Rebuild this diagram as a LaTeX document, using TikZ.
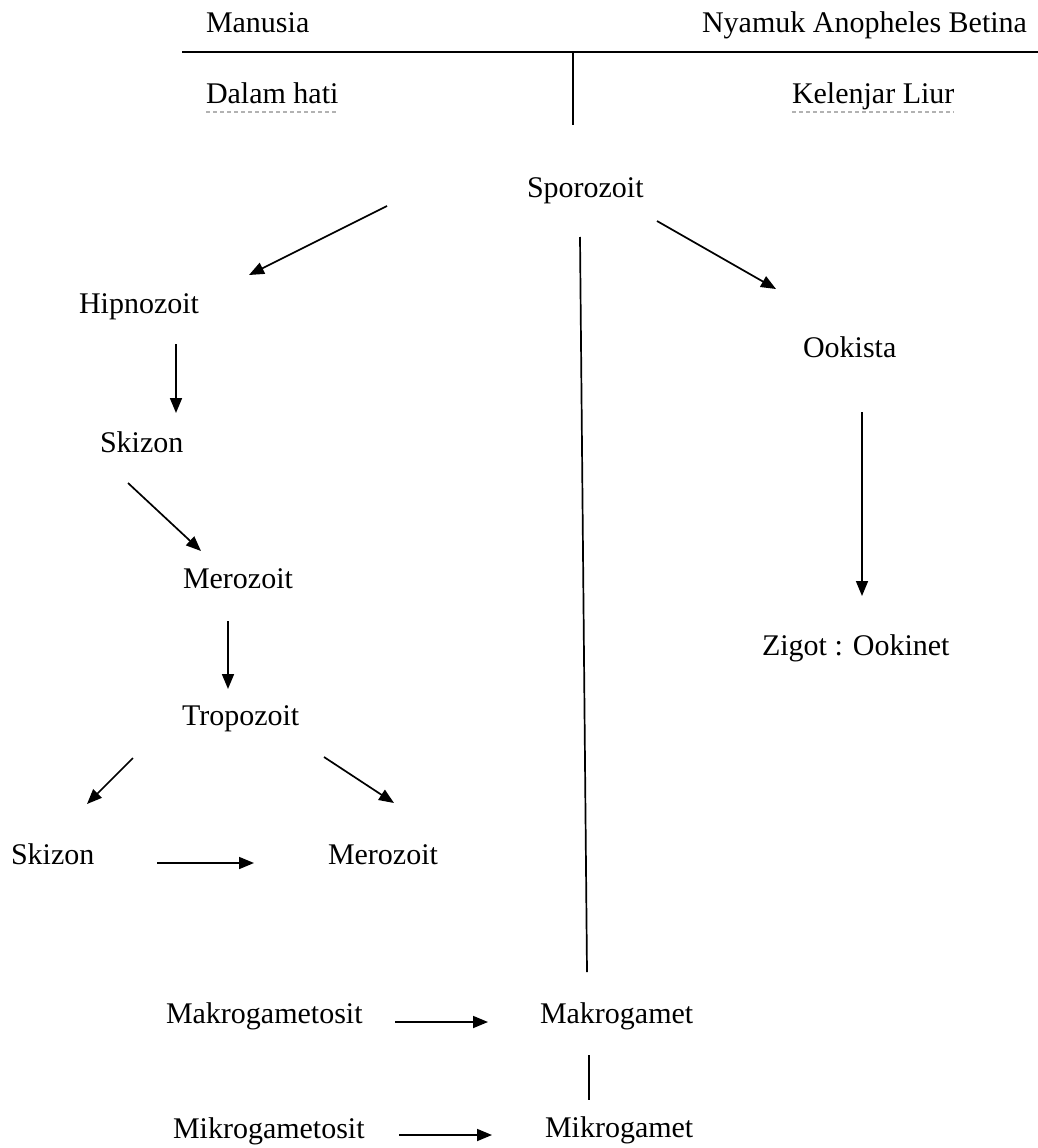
\documentclass[tikz,border=0pt]{standalone}
\usepackage{fontspec}
\setmainfont{Liberation Serif}
\usetikzlibrary{arrows.meta}
\tikzset{
  lbl/.style={anchor=base west, inner sep=0pt, outer sep=0pt, font=\fontsize{30}{36}\selectfont},
  lblr/.style={lbl, anchor=base east},
  arr/.style={line width=1.7pt, -{Triangle[length=15pt,width=12pt]}},
  rule/.style={line width=1.7pt},
  spell/.style={gray!60, line width=1.2pt, dash pattern=on 4pt off 3pt}
}
\begin{document}
\begin{tikzpicture}[x=1pt,y=-1pt]
\useasboundingbox (0,0) rectangle (1038,1148);
% header
\node[lbl]  (man)  at (206,33)  {Manusia};
\node[lblr] (nyam) at (1027,33) {Nyamuk Anopheles Betina};
\node[lbl]  (dalam) at (206,103) {Dalam hati};
\node[lbl]  (kel)  at (792,103) {Kelenjar Liur};
\coordinate (hL) at (182,52);
\coordinate (hR) at (1038,52);
\coordinate (vT) at (573,52);
\coordinate (vB) at (573,125);
\draw[rule] (hL) -- (hR);
\draw[rule] (vT) -- (vB);
\draw[spell] ([yshift=-9pt]dalam.base west) -- ([yshift=-9pt]dalam.base east);
\draw[spell] ([yshift=-9pt]kel.base west) -- ([yshift=-9pt]kel.base east);
% nodes
\node[lbl] (spo)  at (527,197)  {Sporozoit};
\node[lbl] (hip)  at (79,313)   {Hipnozoit};
\node[lbl] (sk1)  at (100,452)  {Skizon};
\node[lbl] (mer1) at (183,588)  {Merozoit};
\node[lbl] (tro)  at (182,725)  {Tropozoit};
\node[lbl] (sk2)  at (11,864)   {Skizon};
\node[lbl] (mer2) at (328,864)  {Merozoit};
\node[lbl] (makt) at (166,1023) {Makrogametosit};
\node[lbl] (makg) at (540,1023) {Makrogamet};
\node[lbl] (mikt) at (173,1138) {Mikrogametosit};
\node[lbl] (mikg) at (545,1137) {Mikrogamet};
\node[lbl] (ook)  at (803,357)  {Ookista};
\node[lbl] (zig)  at (762,655)  {Zigot : Ookinet};
% arrow end points
\coordinate (a1s) at (387,206);  \coordinate (a1e) at (249,275);
\coordinate (a2s) at (657,221);  \coordinate (a2e) at (776,289);
\coordinate (a3s) at (176,344);  \coordinate (a3e) at (176,413);
\coordinate (a4s) at (128,483);  \coordinate (a4e) at (201,551);
\coordinate (a5s) at (228,621);  \coordinate (a5e) at (228,689);
\coordinate (a6s) at (133,758);  \coordinate (a6e) at (87,804);
\coordinate (a7s) at (324,757);  \coordinate (a7e) at (394,803);
\coordinate (a8s) at (157,863);  \coordinate (a8e) at (254,863);
\coordinate (a9s) at (395,1022); \coordinate (a9e) at (488,1022);
\coordinate (a10s) at (399,1135); \coordinate (a10e) at (492,1135);
\coordinate (a11s) at (862,412); \coordinate (a11e) at (862,596);
\coordinate (m1s) at (580,237);  \coordinate (m1e) at (587,972);
\coordinate (m2s) at (589,1055); \coordinate (m2e) at (589,1100);
% arrows
\draw[arr] (a1s) -- (a1e);
\draw[arr] (a2s) -- (a2e);
\draw[arr] (a3s) -- (a3e);
\draw[arr] (a4s) -- (a4e);
\draw[arr] (a5s) -- (a5e);
\draw[arr] (a6s) -- (a6e);
\draw[arr] (a7s) -- (a7e);
\draw[arr] (a8s) -- (a8e);
\draw[arr] (a9s) -- (a9e);
\draw[arr] (a10s) -- (a10e);
\draw[arr] (a11s) -- (a11e);
% plain lines
\draw[rule] (m1s) -- (m1e);
\draw[rule] (m2s) -- (m2e);
\end{tikzpicture}
\end{document}
